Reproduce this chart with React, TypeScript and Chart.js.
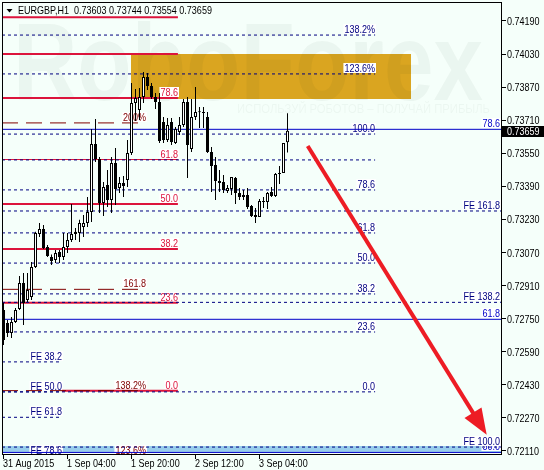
import React, { useEffect, useRef } from "react";
import { Chart, registerables } from "chart.js";

Chart.register(...registerables);

// Arial-style face, squeezed horizontally to a narrow width when drawn
const FONT = "'Liberation Sans', Arial, sans-serif";
const NARROW = 0.82;

// EURGBP hourly bars, first bar 31 Aug 2015 12:00
const OPEN = [
  0.72792, 0.72729, 0.72681, 0.72734, 0.72797, 0.72923, 0.7284, 0.72855, 0.73, 0.7316,
  0.73184, 0.73097, 0.73048, 0.73034, 0.73073, 0.73048, 0.73097, 0.73131, 0.7317, 0.73165,
  0.73194, 0.73213, 0.73266, 0.73595, 0.73523, 0.7331, 0.73397, 0.73324, 0.73503, 0.73382,
  0.73406, 0.73421, 0.73552, 0.73793, 0.7376, 0.73822, 0.73919, 0.73876, 0.73822, 0.73798,
  0.73701, 0.73614, 0.73701, 0.736, 0.73653, 0.73687, 0.73798, 0.73571, 0.73726, 0.7375,
  0.73748, 0.73726, 0.73556, 0.73493, 0.73416, 0.73411, 0.73368, 0.73377, 0.73431, 0.73358,
  0.73339, 0.73348, 0.73295, 0.73252, 0.73242, 0.73314, 0.73314, 0.73363, 0.73344, 0.7345,
  0.73455, 0.73603,
];
const HIGH = [
  0.72826, 0.72744, 0.72758, 0.72802, 0.72957, 0.72971, 0.72971, 0.73024, 0.7317, 0.73213,
  0.73203, 0.73106, 0.7306, 0.73082, 0.73082, 0.73165, 0.73165, 0.73305, 0.73189, 0.73228,
  0.73252, 0.73339, 0.73668, 0.73716, 0.73532, 0.73411, 0.73469, 0.73532, 0.73576, 0.73435,
  0.7344, 0.73614, 0.7389, 0.73861, 0.73866, 0.73943, 0.73939, 0.7389, 0.73842, 0.73842,
  0.73726, 0.73721, 0.73721, 0.73677, 0.73726, 0.73813, 0.73822, 0.73813, 0.73871, 0.73774,
  0.73774, 0.7375, 0.73581, 0.73532, 0.73469, 0.73445, 0.73397, 0.73435, 0.73435, 0.73382,
  0.73373, 0.73382, 0.733, 0.73286, 0.73329, 0.73339, 0.73363, 0.73387, 0.73455, 0.73489,
  0.736, 0.73744,
];
const LOW = [
  0.72623, 0.72662, 0.72657, 0.72729, 0.72792, 0.7272, 0.72831, 0.7284, 0.72995, 0.73145,
  0.73087, 0.73048, 0.7301, 0.73019, 0.73019, 0.73034, 0.73068, 0.73121, 0.73131, 0.73121,
  0.73145, 0.73194, 0.73218, 0.73508, 0.73261, 0.73247, 0.7329, 0.73261, 0.733, 0.73358,
  0.73339, 0.73387, 0.73542, 0.73706, 0.73711, 0.73793, 0.73856, 0.73813, 0.73764, 0.736,
  0.736, 0.73605, 0.7359, 0.73595, 0.73639, 0.73677, 0.73431, 0.73556, 0.73711, 0.73672,
  0.73672, 0.73552, 0.73363, 0.73324, 0.73363, 0.73358, 0.73358, 0.73348, 0.73305, 0.73324,
  0.73324, 0.73281, 0.73242, 0.73213, 0.73242, 0.73286, 0.73281, 0.73339, 0.73339, 0.73402,
  0.73455, 0.73554,
];
const CLOSE = [
  0.72647, 0.72681, 0.72734, 0.72792, 0.72923, 0.72826, 0.72889, 0.73, 0.73165, 0.73184,
  0.73092, 0.73053, 0.73029, 0.73068, 0.73048, 0.73097, 0.73131, 0.7316, 0.7316, 0.73213,
  0.73213, 0.73266, 0.73595, 0.73523, 0.7331, 0.73387, 0.73324, 0.73503, 0.73377, 0.73406,
  0.73392, 0.73552, 0.73793, 0.73818, 0.73822, 0.73919, 0.73876, 0.73822, 0.73798, 0.7361,
  0.73614, 0.73687, 0.73605, 0.73668, 0.73687, 0.73798, 0.7359, 0.73726, 0.7375, 0.73748,
  0.73745, 0.73556, 0.73489, 0.73416, 0.73406, 0.73373, 0.73382, 0.73435, 0.73358, 0.73339,
  0.73348, 0.7329, 0.73247, 0.73242, 0.73319, 0.73316, 0.73358, 0.73344, 0.7345, 0.73455,
  0.736, 0.73659,
];

const SYMBOL = "EURGBP,H1";
const TIME_TICKS = [0, 16, 32, 48, 64];
const TIME_LABELS = ["31 Aug 2015", "1 Sep 04:00", "1 Sep 20:00", "2 Sep 12:00", "3 Sep 04:00"];
const PRICE_TICKS = [
  0.7419, 0.7403, 0.7387, 0.7371, 0.7355, 0.7339, 0.7323, 0.7307, 0.7291, 0.7275, 0.7259, 0.7243,
  0.7227, 0.7211,
];

// Fibonacci retracement (crimson)
const FIB_RED_LABELS = ["", "", "78.6", "61.8", "50.0", "38.2", "23.6", "0.0"];
const FIB_RED_PRICES = [0.74208, 0.7403, 0.73818, 0.7352, 0.73305, 0.73087, 0.72827, 0.72402];
// Fibonacci retracement (navy, dotted)
const FIB_NAVY_LABELS = ["138.2%", "123.6%", "100.0", "", "78.6", "61.8", "50.0", "38.2", "23.6", "0.0"];
const FIB_NAVY_PRICES = [0.74122, 0.73934, 0.73643, 0.73518, 0.73373, 0.73165, 0.73019, 0.7287, 0.72686, 0.72396];
// Fibonacci expansion levels
const FE_RIGHT_LABELS = ["FE 161.8", "FE 138.2", "FE 100.0"];
const FE_RIGHT_PRICES = [0.73271, 0.72829, 0.72129];
const FE_LEFT_LABELS = ["FE 38.2", "FE 50.0", "FE 61.8", "FE 78.6"];
const FE_LEFT_PRICES = [0.72541, 0.72396, 0.72273, 0.72088];
// Extension (maroon, long dashes)
const EXT_LABELS = ["200%", "161.8", "138.2%", "123.6%"];
const EXT_PRICES = [0.73697, 0.72892, 0.72402, 0.72088];
// Solid blue levels
const BLUE_LABELS = ["78.6", "61.8", "50.0"];
const BLUE_PRICES = [0.73666, 0.72747, 0.72103];
// Target zone and bottom band
const ZONE_PRICES = [0.7403, 0.73815];
const ZONE_BARS = [31.9, 101.9];
const BAND_PRICES = [0.72134, 0.72105];
// Forecast arrow
const ARROW_BARS = [76.05, 120.8];
const ARROW_PRICES = [0.73585, 0.72188];

const LAST_PRICE = CLOSE[CLOSE.length - 1];

const W = 544;
const H = 470;
const BG = "#f5fffa";
const X_MIN = -0.375;
const X_MAX = 124.625;
const Y_MIN = 0.720906;
const Y_MAX = 0.742819;

// horizontal spans (bar units) of the drawn objects
const RED_END = 43.6;
const RED_ZERO_START = 14.6;
const NAVY_END = 92.9;
const FE_LEFT_END = 14.6;
const EXT_END = 34.2;
const EXT_LABEL_END = 35.5;
const RIGHT_LABEL_END = 124.1;

// draws text in the squeezed face; returns the drawn width
function narrowText(
  ctx: CanvasRenderingContext2D,
  text: string,
  x: number,
  y: number,
  align: "left" | "right",
  color: string,
  baseline: CanvasTextBaseline = "alphabetic"
) {
  ctx.save();
  ctx.font = `11px ${FONT}`;
  const w = ctx.measureText(text).width * NARROW;
  ctx.translate(align === "right" ? x - w : x, y);
  ctx.scale(NARROW, 1);
  ctx.textAlign = "left";
  ctx.textBaseline = baseline;
  ctx.fillStyle = color;
  ctx.fillText(text, 0, 0);
  ctx.restore();
  return w;
}

function narrowWidth(ctx: CanvasRenderingContext2D, text: string) {
  ctx.save();
  ctx.font = `11px ${FONT}`;
  const w = ctx.measureText(text).width * NARROW;
  ctx.restore();
  return w;
}

export default function App() {
  const ref = useRef<HTMLCanvasElement>(null);

  useEffect(() => {
    document.body.style.margin = "0";
    const canvas = ref.current;
    if (!canvas) return;
    const idx = OPEN.map((_, i) => i);
    const datasets: any[] = [];

    const addLevels = (
      prices: number[],
      from: (k: number) => number,
      to: number,
      color: string,
      width: (k: number) => number,
      dash: number[]
    ) => {
      prices.forEach((p, k) =>
        datasets.push({
          type: "line",
          data: [
            { x: from(k), y: p },
            { x: to, y: p },
          ],
          borderColor: color,
          borderWidth: width(k),
          borderDash: dash,
          pointRadius: 0,
          fill: false,
          order: 3,
        })
      );
    };

    addLevels(FIB_NAVY_PRICES, () => X_MIN, NAVY_END, "#000080", () => 1, [3, 3]);
    addLevels(FE_RIGHT_PRICES, () => X_MIN, X_MAX, "#000080", () => 1, [3, 3]);
    addLevels(FE_LEFT_PRICES, () => X_MIN, FE_LEFT_END, "#000080", () => 1, [3, 3]);
    addLevels(EXT_PRICES, () => X_MIN, EXT_END, "#800000", () => 1, [16, 8]);
    addLevels(BLUE_PRICES, () => X_MIN, X_MAX, "#0000c8", () => 1, []);
    addLevels(
      FIB_RED_PRICES,
      (k) => (FIB_RED_LABELS[k] === "0.0" ? RED_ZERO_START : X_MIN),
      RED_END,
      "#dc143c",
      (k) => (FIB_RED_LABELS[k] === "61.8" ? 1 : 2),
      []
    );

    datasets.push({
      type: "bar",
      label: "wick",
      data: idx.map((i) => ({ x: i, y: [LOW[i], HIGH[i]] })),
      backgroundColor: "#000000",
      borderWidth: 0,
      barThickness: 1,
      grouped: false,
      inflateAmount: 0,
      order: 1,
    });
    datasets.push({
      type: "bar",
      label: "body",
      data: idx.map((i) => ({ x: i, y: [OPEN[i], CLOSE[i]] })),
      backgroundColor: idx.map((i) => (CLOSE[i] >= OPEN[i] ? "#ffffff" : "#000000")),
      borderColor: "#000000",
      borderWidth: 1,
      borderSkipped: false,
      barThickness: 3,
      minBarLength: 1,
      grouped: false,
      inflateAmount: 0,
      order: 0,
    });

    const overlay = {
      id: "overlay",
      beforeDraw(chart: any) {
        const ctx = chart.ctx;
        ctx.save();
        ctx.fillStyle = BG;
        ctx.fillRect(0, 0, W, H);
        ctx.restore();
      },
      beforeDatasetsDraw(chart: any) {
        const { ctx, chartArea: a, scales } = chart;
        const x = scales.x;
        const y = scales.y;
        ctx.save();
        ctx.beginPath();
        ctx.rect(a.left, a.top, a.right - a.left, a.bottom - a.top);
        ctx.clip();

        // target zone
        const zx0 = Math.round(x.getPixelForValue(ZONE_BARS[0]));
        const zx1 = Math.round(x.getPixelForValue(ZONE_BARS[1]));
        const zy0 = Math.round(y.getPixelForValue(ZONE_PRICES[0]));
        const zy1 = Math.round(y.getPixelForValue(ZONE_PRICES[1]));
        ctx.fillStyle = "#daa520";
        ctx.fillRect(zx0, zy0, zx1 - zx0, zy1 - zy0);

        // bottom band
        const by0 = Math.round(y.getPixelForValue(BAND_PRICES[0]));
        const by1 = Math.round(y.getPixelForValue(BAND_PRICES[1]));
        ctx.fillStyle = "#98cdec";
        ctx.fillRect(a.left, by0, a.right - a.left, by1 - by0);

        // watermark
        ctx.fillStyle = "rgba(0, 40, 30, 0.045)";
        ctx.textAlign = "left";
        ctx.textBaseline = "alphabetic";
        ctx.font = "bold 110px 'Liberation Sans', sans-serif";
        const wm = "RoboForex";
        const ww = ctx.measureText(wm).width;
        ctx.save();
        ctx.translate(13, 100);
        ctx.scale(470 / ww, 1);
        ctx.fillText(wm, 0, 0);
        ctx.restore();
        ctx.font = "13px 'Liberation Sans', sans-serif";
        const sub = "ИСПОЛЬЗУЙ РОБОТОВ – ПОЛУЧАЙ ПРИБЫЛЬ";
        const sw = ctx.measureText(sub).width;
        ctx.fillStyle = "rgba(0, 40, 30, 0.04)";
        ctx.save();
        ctx.translate(237, 113);
        ctx.scale(253 / sw, 1);
        ctx.fillText(sub, 0, 0);
        ctx.restore();
        ctx.restore();

        // level captions
        const caption = (text: string, bar: number, price: number, color: string) => {
          if (!text) return;
          const px = Math.round(x.getPixelForValue(bar));
          const py = Math.round(y.getPixelForValue(price)) - 2;
          const w = narrowWidth(ctx, text);
          ctx.save();
          ctx.fillStyle = "#ffffff";
          ctx.fillRect(px - w - 1, py - 9, w + 2, 10);
          ctx.restore();
          narrowText(ctx, text, px, py, "right", color);
        };
        BLUE_LABELS.forEach((t, k) => caption(t, RIGHT_LABEL_END, BLUE_PRICES[k], "#0000c8"));
        FIB_NAVY_LABELS.forEach((t, k) => caption(t, NAVY_END, FIB_NAVY_PRICES[k], "#000080"));
        FE_RIGHT_LABELS.forEach((t, k) => caption(t, RIGHT_LABEL_END, FE_RIGHT_PRICES[k], "#000080"));
        FE_LEFT_LABELS.forEach((t, k) => caption(t, FE_LEFT_END, FE_LEFT_PRICES[k], "#000080"));
        EXT_LABELS.forEach((t, k) => caption(t, EXT_LABEL_END, EXT_PRICES[k], "#800000"));
        FIB_RED_LABELS.forEach((t, k) => caption(t, RED_END, FIB_RED_PRICES[k], "#dc143c"));
      },
      afterDatasetsDraw(chart: any) {
        const { ctx, scales } = chart;
        const x = scales.x;
        const y = scales.y;
        // forecast arrow
        const x0 = x.getPixelForValue(ARROW_BARS[0]);
        const y0 = y.getPixelForValue(ARROW_PRICES[0]);
        const x1 = x.getPixelForValue(ARROW_BARS[1]);
        const y1 = y.getPixelForValue(ARROW_PRICES[1]);
        const len = Math.hypot(x1 - x0, y1 - y0);
        const ux = (x1 - x0) / len;
        const uy = (y1 - y0) / len;
        const bx = x1 - ux * 26;
        const byy = y1 - uy * 26;
        ctx.save();
        ctx.strokeStyle = "#ed1c24";
        ctx.fillStyle = "#ed1c24";
        ctx.lineWidth = 4;
        ctx.beginPath();
        ctx.moveTo(x0, y0);
        ctx.lineTo(bx + ux * 4, byy + uy * 4);
        ctx.stroke();
        ctx.beginPath();
        ctx.moveTo(x1, y1);
        ctx.lineTo(bx - uy * 10, byy + ux * 10);
        ctx.lineTo(bx + uy * 10, byy - ux * 10);
        ctx.closePath();
        ctx.fill();

        // frame
        ctx.strokeStyle = "#000000";
        ctx.lineWidth = 1;
        ctx.strokeRect(2.5, 2.5, 499, 452);
        ctx.restore();
      },
      afterDraw(chart: any) {
        const { ctx, scales } = chart;
        const x = scales.x;
        const y = scales.y;

        // axis labels
        PRICE_TICKS.forEach((v) => {
          const py = Math.round(y.getPixelForValue(v));
          narrowText(ctx, v.toFixed(5), 507, py + 4, "left", "#000000");
        });
        TIME_TICKS.forEach((t, k) => {
          const px = Math.floor(x.getPixelForValue(t));
          narrowText(ctx, TIME_LABELS[k], px, 467, "left", "#000000");
        });

        // last price tag
        const py = Math.round(y.getPixelForValue(LAST_PRICE));
        ctx.save();
        ctx.fillStyle = "#000000";
        ctx.fillRect(502, py - 5, 42, 11);
        ctx.restore();
        narrowText(ctx, LAST_PRICE.toFixed(5), 507, py + 4, "left", "#ffffff");

        // title
        ctx.save();
        ctx.fillStyle = "#000000";
        ctx.beginPath();
        ctx.moveTo(6.5, 9);
        ctx.lineTo(12.5, 9);
        ctx.lineTo(9.5, 12.5);
        ctx.closePath();
        ctx.fill();
        ctx.restore();
        const last = OPEN.length - 1;
        const title = `${SYMBOL}  ${OPEN[last].toFixed(5)} ${HIGH[last].toFixed(5)} ${LOW[last].toFixed(5)} ${CLOSE[last].toFixed(5)}`;
        narrowText(ctx, title, 18, 14, "left", "#000000");
      },
    };

    const chart = new Chart(canvas, {
      type: "bar",
      data: { datasets },
      options: {
        responsive: false,
        animation: false,
        devicePixelRatio: 1,
        events: [],
        layout: { padding: { left: 2, top: 2, right: 0, bottom: 0 } },
        plugins: { legend: { display: false }, tooltip: { enabled: false } },
        scales: {
          x: {
            type: "linear",
            min: X_MIN,
            max: X_MAX,
            offset: false,
            afterBuildTicks: (s: any) => {
              s.ticks = TIME_TICKS.map((value) => ({ value }));
            },
            afterFit: (s: any) => {
              s.height = 15;
              s.paddingLeft = 0;
              s.paddingRight = 0;
            },
            grid: {
              offset: false,
              display: true,
              drawOnChartArea: false,
              drawTicks: true,
              tickLength: 4,
              color: "#000000",
              lineWidth: 1,
            },
            border: { display: false },
            ticks: { display: false, autoSkip: false, maxRotation: 0 },
          },
          y: {
            type: "linear",
            position: "right",
            min: Y_MIN,
            max: Y_MAX,
            afterBuildTicks: (s: any) => {
              s.ticks = PRICE_TICKS.map((value) => ({ value }));
            },
            afterFit: (s: any) => {
              s.width = 42;
              s.paddingTop = 0;
              s.paddingBottom = 0;
            },
            grid: {
              display: true,
              drawOnChartArea: false,
              drawTicks: true,
              tickLength: 4,
              color: "#000000",
              lineWidth: 1,
            },
            border: { display: false },
            ticks: { display: false, autoSkip: false },
          },
        },
      } as any,
      plugins: [overlay],
    });

    return () => chart.destroy();
  }, []);

  return <canvas ref={ref} width={W} height={H} style={{ display: "block", width: W, height: H }} />;
}
